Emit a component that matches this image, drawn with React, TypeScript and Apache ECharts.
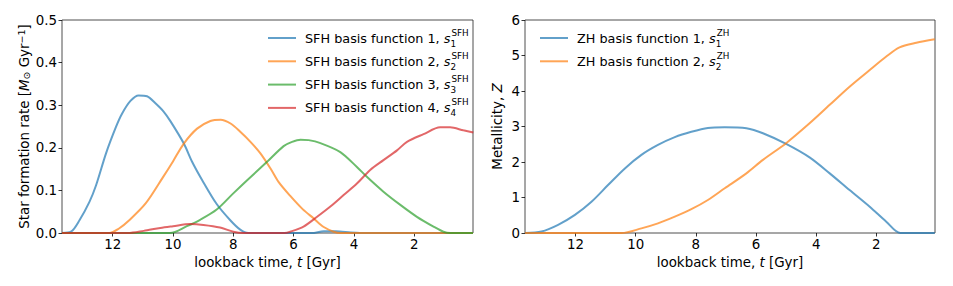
import React, { useEffect, useRef } from "react";
import * as echarts from "echarts";

// lookback time [Gyr], value pairs
const sfh1: [number, number][] = [[13.68,0],[13.38,0.003],[13.1,0.03],[12.77,0.073],[12.55,0.112],[12.22,0.187],[11.89,0.249],[11.69,0.28],[11.41,0.31],[11.14,0.323],[10.86,0.321],[10.59,0.305],[10.31,0.285],[10.08,0.262],[9.64,0.21],[9.37,0.168],[9.03,0.124],[8.55,0.068],[8.1,0.03],[7.77,0.008],[7.5,0],[5.4,0],[5.0,0.004],[4.6,0.004],[4.1,0.001],[3.8,0],[0.05,0]];
const sfh2: [number, number][] = [[13.68,0],[12.11,0],[11.8,0.01],[11.45,0.03],[10.9,0.07],[10.34,0.13],[10.0,0.168],[9.64,0.21],[9.2,0.245],[8.76,0.263],[8.42,0.266],[8.09,0.257],[7.76,0.237],[7.43,0.214],[7.1,0.187],[6.77,0.152],[6.5,0.12],[6.11,0.087],[5.7,0.056],[5.33,0.034],[5.0,0.014],[4.67,0.003],[4.45,0],[0.05,0]];
const sfh3: [number, number][] = [[13.68,0],[10.1,0],[9.54,0.016],[9.1,0.031],[8.55,0.055],[8.0,0.093],[7.54,0.124],[6.88,0.167],[6.33,0.204],[6.05,0.214],[5.77,0.219],[5.5,0.218],[5.11,0.211],[4.45,0.19],[3.9,0.155],[3.57,0.132],[3.02,0.097],[2.46,0.066],[1.91,0.038],[1.36,0.015],[1.03,0.003],[0.8,0],[0.05,0]];
const sfh4: [number, number][] = [[13.68,0],[11.5,0],[10.97,0.005],[10.42,0.012],[10.0,0.016],[9.43,0.021],[8.99,0.019],[8.44,0.013],[8.0,0.003],[7.66,0],[6.3,0],[6.11,0.003],[5.67,0.015],[5.22,0.038],[4.78,0.062],[4.34,0.089],[3.9,0.116],[3.46,0.148],[3.02,0.171],[2.57,0.194],[2.24,0.214],[1.69,0.232],[1.14,0.248],[0.81,0.248],[0.37,0.241],[0.04,0.236]];
const zh1: [number, number][] = [[13.68,0],[13.13,0.04],[12.58,0.23],[12.02,0.51],[11.47,0.88],[10.92,1.35],[10.36,1.82],[9.81,2.2],[9.26,2.48],[8.7,2.7],[8.15,2.85],[7.6,2.96],[7.04,2.98],[6.32,2.95],[5.77,2.81],[5.0,2.51],[4.22,2.13],[3.55,1.68],[2.89,1.21],[2.22,0.74],[1.67,0.32],[1.2,0],[0.06,0]];
const zh2: [number, number][] = [[13.68,0],[10.47,0],[9.81,0.13],[9.26,0.27],[8.7,0.46],[8.15,0.67],[7.6,0.93],[7.04,1.26],[6.32,1.68],[5.77,2.06],[5.0,2.53],[4.22,3.09],[3.55,3.61],[2.89,4.12],[2.22,4.59],[1.67,4.97],[1.23,5.23],[0.67,5.36],[0.06,5.46]];

const sfhNames = ["SFH basis function 1", "SFH basis function 2", "SFH basis function 3", "SFH basis function 4"];
const zhNames = ["ZH basis function 1", "ZH basis function 2"];
const xTicks = [2, 4, 6, 8, 10, 12];
const xMin = 0.05;
const xMax = 13.68;

const colors = ["#1f77b4", "#ff7f0e", "#2ca02c", "#d62728"];
const FONT = "DejaVu Sans";
const FS = 13.4;
const LFS = 12.8;

export default function App() {
  const ref = useRef<HTMLDivElement>(null);
  useEffect(() => {
    document.body.style.margin = "0";
    const chart = echarts.init(ref.current!, null, { renderer: "svg" });
    const legendRich = {
      t: { fontFamily: FONT, fontSize: LFS, color: "#000", lineHeight: 20 },
      s: { fontFamily: FONT, fontSize: LFS, fontStyle: "italic", color: "#000", lineHeight: 20 },
      sub: { fontFamily: FONT, fontSize: 8.8, color: "#000", width: 1, lineHeight: 9, verticalAlign: "bottom" },
      sup: { fontFamily: FONT, fontSize: 8.8, color: "#000", lineHeight: 11, verticalAlign: "top" },
    };
    const mkLine = (name: string, data: [number, number][], c: string, idx: number) => ({
      type: "line",
      name,
      data,
      xAxisIndex: idx,
      yAxisIndex: idx,
      symbol: "none",
      smooth: 0.3,
      lineStyle: { color: c, width: 2, opacity: 0.7 },
      itemStyle: { color: c, opacity: 0.7 },
    });
    const xAxisBase = (gi: number) => ({
      type: "value",
      gridIndex: gi,
      inverse: true,
      min: xMin,
      max: xMax,
      name: "lookback time, {i|t} [Gyr]",
      nameLocation: "middle",
      nameGap: 21,
      nameTextStyle: {
        fontFamily: FONT, fontSize: FS, color: "#000",
        rich: { i: { fontFamily: FONT, fontSize: FS, fontStyle: "italic", color: "#000" } },
      },
      axisLine: { show: false },
      axisTick: { show: true, length: 3.5, lineStyle: { color: "#000", width: 0.8 }, customValues: xTicks },
      axisLabel: { fontFamily: FONT, fontSize: FS, color: "#000", margin: 5, customValues: xTicks },
      splitLine: { show: false },
    });
    const legendBase = (names: string[], left: number, tag: string) => ({
      data: names,
      orient: "vertical",
      left, top: 23,
      icon: "rect",
      itemWidth: 28, itemHeight: 2, itemGap: 3.3,
      formatter: (n: string) => `{t|${n}, }{s|s}{sub|${n.slice(-1)}}{sup|${tag}}`,
      textStyle: { fontFamily: FONT, fontSize: LFS, color: "#000", padding: [0, 0, 0, 4], rich: legendRich },
    });
    const option = {
      animation: false,
      grid: [
        { left: 62, top: 20, width: 411, height: 213, show: true, borderColor: "#222", borderWidth: 0.8, backgroundColor: "transparent" },
        { left: 525, top: 20, width: 410, height: 213, show: true, borderColor: "#222", borderWidth: 0.8, backgroundColor: "transparent" },
      ],
      xAxis: [xAxisBase(0), xAxisBase(1)],
      yAxis: [
        {
          type: "value", gridIndex: 0, min: 0, max: 0.5, interval: 0.1,
          name: "Star formation rate [{i|M}{sub|⊙} Gyr{sup|−1}]",
          nameLocation: "middle", nameGap: 30,
          nameTextStyle: {
            fontFamily: FONT, fontSize: FS, color: "#000",
            rich: {
              i: { fontFamily: FONT, fontSize: FS, fontStyle: "italic", color: "#000" },
              sub: { fontFamily: FONT, fontSize: 9.5, color: "#000", padding: [5, 0, 0, 0] },
              sup: { fontFamily: FONT, fontSize: 9.5, color: "#000", padding: [0, 0, 6, 0] },
            },
          },
          axisLine: { show: false },
          axisTick: { show: true, length: 3.5, lineStyle: { color: "#000", width: 0.8 } },
          axisLabel: { fontFamily: FONT, fontSize: FS, color: "#000", margin: 5, formatter: (v: number) => v.toFixed(1) },
          splitLine: { show: false },
        },
        {
          type: "value", gridIndex: 1, min: 0, max: 6, interval: 1,
          name: "Metallicity, {i|Z}",
          nameLocation: "middle", nameGap: 21,
          nameTextStyle: {
            fontFamily: FONT, fontSize: FS, color: "#000",
            rich: { i: { fontFamily: FONT, fontSize: FS, fontStyle: "italic", color: "#000" } },
          },
          axisLine: { show: false },
          axisTick: { show: true, length: 3.5, lineStyle: { color: "#000", width: 0.8 } },
          axisLabel: { fontFamily: FONT, fontSize: FS, color: "#000", margin: 5 },
          splitLine: { show: false },
        },
      ],
      legend: [legendBase(sfhNames, 263, "SFH"), legendBase(zhNames, 535, "ZH")],
      series: [
        mkLine(sfhNames[0], sfh1, colors[0], 0),
        mkLine(sfhNames[1], sfh2, colors[1], 0),
        mkLine(sfhNames[2], sfh3, colors[2], 0),
        mkLine(sfhNames[3], sfh4, colors[3], 0),
        mkLine(zhNames[0], zh1, colors[0], 1),
        mkLine(zhNames[1], zh2, colors[1], 1),
      ],
    };
    chart.setOption(option as any);
    return () => chart.dispose();
  }, []);
  return <div ref={ref} style={{ width: 953, height: 286 }} />;
}
